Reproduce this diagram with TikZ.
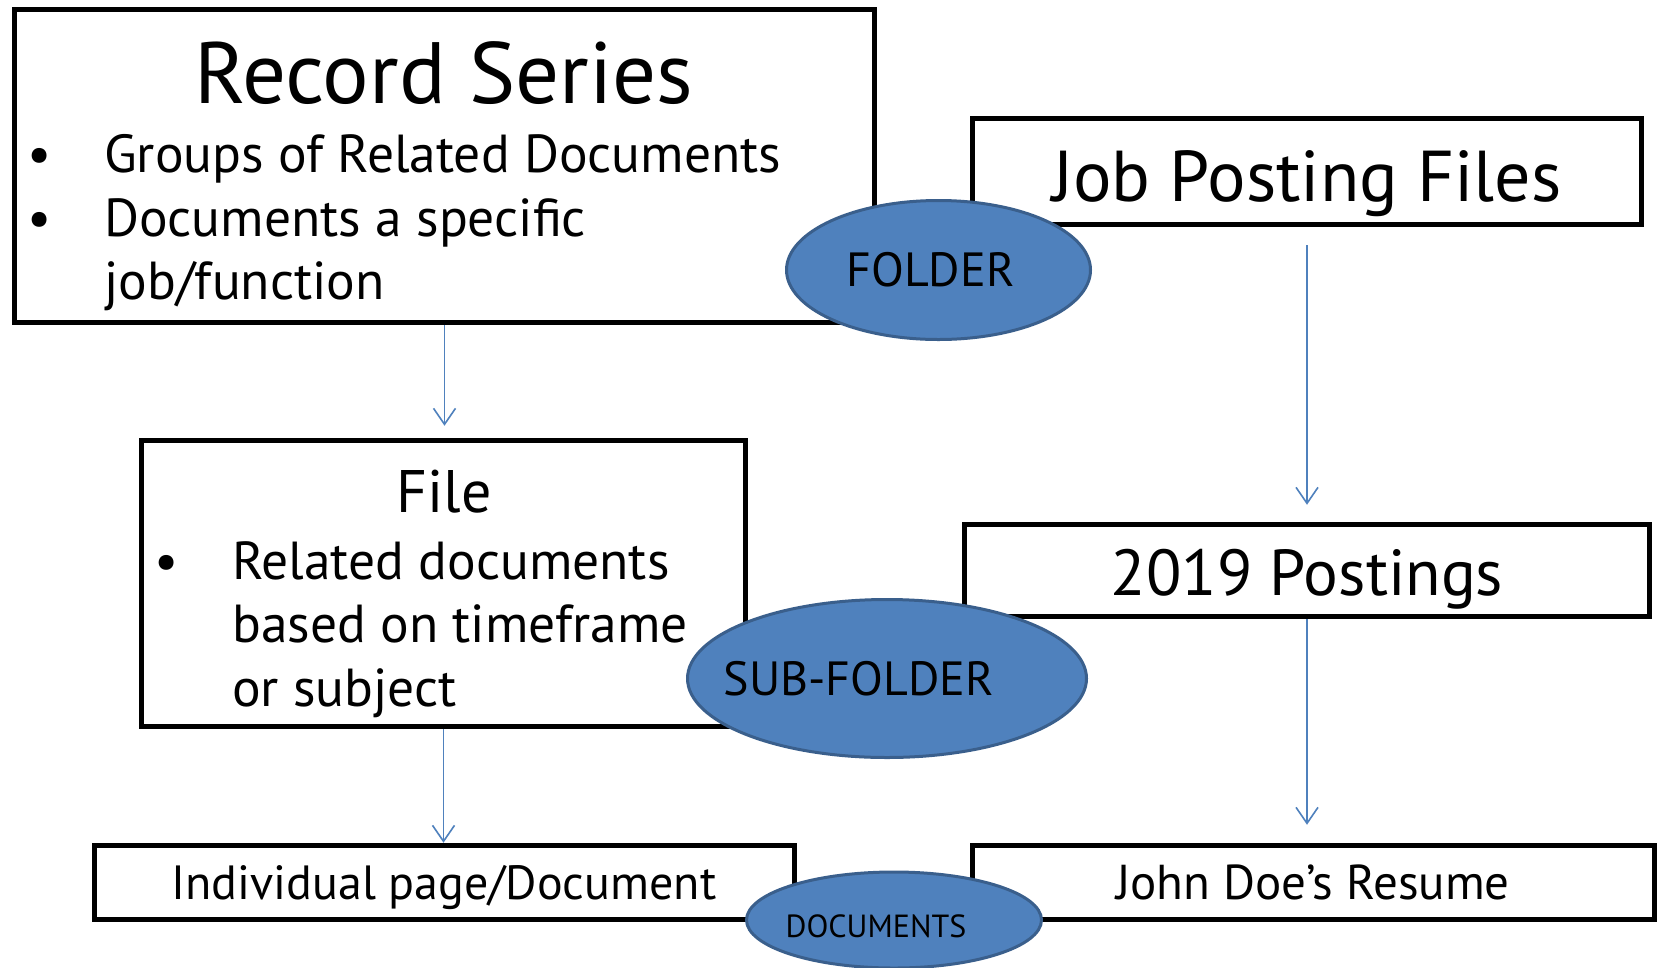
\documentclass[tikz,border=0pt]{standalone}
\usepackage{fontspec}
\setmainfont{PT Sans}
\usetikzlibrary{arrows.meta,shapes.geometric}
\definecolor{folderblue}{HTML}{4F81BD}
\definecolor{folderedge}{HTML}{3A5F8C}

\begin{document}
\begin{tikzpicture}[x=1pt, y=-1pt, >={Straight Barb[length=16pt, width=22pt]},
    box/.style={draw, line width=5.5pt, inner sep=0pt},
    folder/.style={ellipse, draw=folderedge, line width=3pt, fill=folderblue, inner sep=0pt},
    link/.style={->, draw=folderblue, line width=1.6pt},
    txt/.style={anchor=base west, inner sep=0pt},
    head/.style={anchor=base, inner sep=0pt}]
    \useasboundingbox[fill=white] (0,0) rectangle (1659,967);
    % Boxes (record series side)
    \node[box, minimum width=860pt, minimum height=313pt] (series) at (444.5,166) {};
    \node[box, minimum width=604pt, minimum height=286pt] (file) at (443.5,583.5) {};
    \node[box, minimum width=700pt, minimum height=74pt] (page) at (444.5,882.5) {};
    % Boxes (job posting side)
    \node[box, minimum width=669pt, minimum height=106pt] (jobs) at (1307,171.5) {};
    \node[box, minimum width=685pt, minimum height=92pt] (posts) at (1307,570.5) {};
    \node[box, minimum width=682pt, minimum height=74pt] (resume) at (1313.5,882.5) {};
    % Texts inside the boxes
    \node[head, font=\fontsize{87}{94}\selectfont] (seriestitle) at (444,103) {Record Series};
    \node[head, font=\fontsize{53.5}{60}\selectfont] (bulleta) at (40,172) {\textbullet};
    \node[txt, font=\fontsize{53.5}{60}\selectfont] (groups) at (104,172) {Groups of Related Documents};
    \node[head, font=\fontsize{53.5}{60}\selectfont] (bulletb) at (40,236) {\textbullet};
    \node[txt, font=\fontsize{53.5}{60}\selectfont] (specific) at (104,236) {Documents a specific};
    \node[txt, font=\fontsize{53.5}{60}\selectfont] (function) at (104,299) {job/function};
    \node[head, font=\fontsize{60}{66}\selectfont] (filetitle) at (444,512) {File};
    \node[head, font=\fontsize{53.5}{60}\selectfont] (bulletc) at (167,579) {\textbullet};
    \node[txt, font=\fontsize{53.5}{60}\selectfont] (related) at (232,579) {Related documents};
    \node[txt, font=\fontsize{53.5}{60}\selectfont] (timeframe) at (232,642) {based on timeframe};
    \node[txt, font=\fontsize{53.5}{60}\selectfont] (subject) at (232,706) {or subject};
    \node[head, font=\fontsize{48}{54}\selectfont] (pagetext) at (444,899) {Individual page/Document};
    \node[head, font=\fontsize{72}{80}\selectfont] (jobstext) at (1307,201) {Job Posting Files};
    \node[head, font=\fontsize{65}{72}\selectfont] (poststext) at (1307,595) {2019 Postings};
    \node[head, font=\fontsize{49}{54}\selectfont] (resumetext) at (1313,899) {John Doe’s Resume};
    % Folder levels
    \node[folder, minimum width=304pt, minimum height=139pt,
        label={[font=\fontsize{48}{52}\selectfont, xshift=-8pt]center:FOLDER}] (folder) at (938.5,270) {};
    \node[folder, minimum width=399pt, minimum height=158pt,
        label={[font=\fontsize{48}{52}\selectfont, xshift=-28pt]center:SUB-FOLDER}] (subfolder) at (887,678.5) {};
    \node[folder, minimum width=295pt, minimum height=96pt,
        label={[font=\fontsize{32}{38}\selectfont, xshift=-18pt, yshift=-6pt]center:DOCUMENTS}] (documents) at (894,920) {};
    % Arrows
    \draw[link, shorten >=12pt] (series.south) -- (series.south |- file.north);
    \draw[link] (file.south) -- (file.south |- page.north);
    \draw[link, shorten <=18pt, shorten >=17pt] (jobs.south) -- (posts.north);
    \draw[link, shorten >=18pt] (posts.south) -- (posts.south |- resume.north);
\end{tikzpicture}
\end{document}
